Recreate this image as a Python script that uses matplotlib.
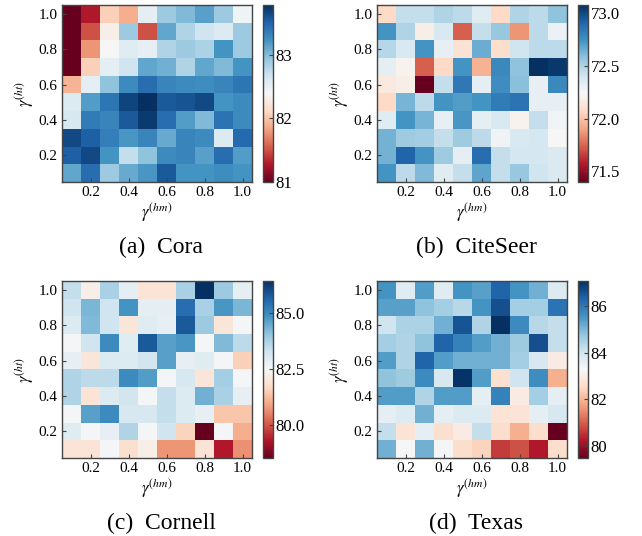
import numpy as np
import matplotlib
matplotlib.use("Agg")
import matplotlib.pyplot as plt

# Шрифты: Times-подобный serif + stix для формул
plt.rcParams['font.family'] = 'serif'
plt.rcParams['font.serif'] = ['Liberation Serif', 'DejaVu Serif']
plt.rcParams['mathtext.fontset'] = 'stix'

# =====================================
# Данные (строки сверху вниз: gamma_ht = 1.0 ... 0.1, столбцы gamma_hm = 0.1 ... 1.0)
# =====================================
cora = [
    [81.00, 81.28, 82.06, 81.89, 82.53, 82.89, 83.00, 83.14, 82.89, 82.45],
    [81.00, 81.50, 82.31, 82.89, 81.50, 83.11, 82.81, 82.67, 82.58, 82.89],
    [81.00, 81.78, 82.39, 82.56, 82.50, 82.81, 82.89, 82.83, 83.22, 82.89],
    [81.00, 82.06, 82.53, 82.67, 83.11, 83.06, 82.81, 83.11, 83.00, 83.22],
    [81.92, 82.53, 82.95, 83.28, 83.45, 83.31, 83.28, 83.25, 83.31, 83.39],
    [82.58, 83.17, 83.39, 83.67, 83.78, 83.56, 83.59, 83.64, 83.22, 83.28],
    [82.61, 83.36, 83.31, 83.56, 83.72, 83.45, 83.17, 83.00, 83.42, 83.28],
    [83.64, 83.53, 83.34, 83.20, 83.31, 83.09, 83.31, 83.28, 82.58, 83.47],
    [83.53, 83.64, 83.22, 82.72, 82.95, 83.28, 83.31, 83.14, 83.45, 83.17],
    [83.11, 83.45, 82.89, 83.09, 83.20, 83.56, 83.22, 83.22, 83.25, 83.22],
]

citeseer = [
    [72.07, 72.44, 72.44, 72.49, 72.46, 72.34, 72.07, 72.49, 72.46, 72.58],
    [72.74, 72.49, 72.19, 72.37, 71.74, 72.44, 72.56, 71.87, 72.46, 72.29],
    [72.48, 72.37, 72.74, 72.31, 72.12, 72.66, 72.09, 72.41, 72.46, 72.46],
    [72.32, 72.21, 71.74, 72.07, 72.74, 71.95, 72.78, 72.58, 73.08, 73.05],
    [72.16, 72.19, 71.40, 72.44, 72.84, 72.32, 72.76, 72.59, 72.31, 72.78],
    [72.07, 72.63, 72.46, 72.74, 72.71, 72.74, 72.83, 72.86, 72.31, 72.31],
    [72.34, 72.74, 72.63, 72.31, 72.73, 72.32, 72.37, 72.21, 72.44, 72.26],
    [72.64, 72.54, 72.53, 72.44, 72.54, 72.46, 72.27, 72.37, 72.39, 72.24],
    [72.64, 72.91, 72.74, 72.54, 72.32, 72.88, 72.44, 72.39, 72.39, 72.36],
    [72.74, 72.46, 72.61, 72.34, 72.44, 72.68, 72.44, 72.56, 72.41, 72.36],
]

cornell = [
    [83.43, 82.24, 83.75, 82.87, 81.92, 81.92, 83.75, 86.45, 83.91, 82.87],
    [83.27, 84.30, 83.27, 84.86, 82.87, 82.87, 85.50, 83.75, 84.78, 84.30],
    [83.03, 84.22, 83.27, 82.00, 82.95, 82.79, 85.81, 83.91, 82.00, 82.55],
    [82.55, 83.27, 85.02, 82.95, 85.81, 84.62, 84.78, 82.55, 84.22, 83.51],
    [82.79, 82.00, 83.03, 83.03, 83.19, 84.62, 82.79, 82.95, 82.55, 81.52],
    [83.67, 83.51, 83.51, 85.02, 84.70, 82.55, 83.11, 82.00, 83.83, 82.55],
    [83.67, 81.92, 83.03, 83.19, 82.55, 83.43, 83.03, 84.38, 83.75, 82.79],
    [82.55, 84.62, 85.02, 83.11, 83.11, 83.43, 83.03, 82.79, 81.36, 81.36],
    [82.95, 82.55, 82.79, 83.67, 82.55, 83.27, 81.60, 78.50, 82.55, 81.04],
    [81.92, 81.92, 82.55, 81.84, 82.24, 80.73, 80.73, 81.92, 79.30, 80.65],
]

texas = [
    [85.54, 83.73, 85.39, 83.73, 85.54, 85.31, 86.30, 85.54, 85.09, 83.80],
    [85.31, 85.31, 84.79, 84.56, 84.33, 85.54, 86.60, 84.56, 84.56, 86.07],
    [84.03, 84.48, 84.48, 85.09, 86.52, 84.41, 87.05, 85.69, 84.33, 84.18],
    [84.56, 84.41, 84.79, 86.30, 85.84, 85.39, 85.09, 84.63, 86.60, 84.18],
    [85.39, 84.41, 86.30, 85.39, 85.09, 85.09, 85.09, 84.56, 83.88, 82.97],
    [84.79, 84.63, 85.69, 83.88, 86.97, 85.39, 82.67, 84.03, 85.62, 81.92],
    [85.39, 85.39, 84.41, 85.39, 85.39, 83.65, 85.84, 82.97, 84.56, 83.65],
    [83.65, 83.80, 85.09, 83.65, 83.80, 83.80, 82.75, 82.75, 83.65, 83.88],
    [84.18, 82.75, 83.65, 82.67, 82.97, 84.18, 82.60, 81.92, 82.60, 79.50],
    [85.09, 83.28, 85.09, 83.35, 82.60, 82.44, 80.63, 80.86, 80.26, 82.60],
]

titles = ['(a)  Cora', '(b)  CiteSeer', '(c)  Cornell', '(d)  Texas']
cbar_ticks = [[81, 82, 83], [71.5, 72.0, 72.5, 73.0], [80.0, 82.5, 85.0], [80, 82, 84, 86]]
cbar_fmt = ['%d', '%.1f', '%.1f', '%d']
axis_ticks = [0.2, 0.4, 0.6, 0.8, 1.0]

# =====================================
# Фигура и расположение панелей (в долях фигуры)
# =====================================
W, H = 642, 536
fig = plt.figure(figsize=(W / 100, H / 100), dpi=100)

# левый край heatmap, верх heatmap (в пикселях)
panels = [(62, 5), (377, 5), (62, 281), (377, 281)]
hm_w, hm_h = 190, 177
cb_gap, cb_w = 11, 10
frame_col = '#444444'

for data, title, ticks, fmt, (px, py) in zip([cora, citeseer, cornell, texas],
                                              titles, cbar_ticks, cbar_fmt, panels):
    ax = fig.add_axes([px / W, 1 - (py + hm_h) / H, hm_w / W, hm_h / H])
    cax = fig.add_axes([(px + hm_w + cb_gap) / W, 1 - (py + hm_h) / H, cb_w / W, hm_h / H])

    im = ax.imshow(np.array(data), cmap='RdBu', origin='upper', aspect='auto',
                   extent=[0.05, 1.05, 0.05, 1.05], interpolation='nearest')

    ax.set_xticks(axis_ticks)
    ax.set_yticks(axis_ticks)
    ax.set_xticklabels(['%.1f' % t for t in axis_ticks])
    ax.set_yticklabels(['%.1f' % t for t in axis_ticks])
    ax.tick_params(direction='in', length=3, width=0.8, color=frame_col,
                   labelsize=11, pad=3)
    ax.set_xlabel(r'$\gamma^{(hm)}$', fontsize=12, labelpad=1)
    ax.set_ylabel(r'$\gamma^{(ht)}$', fontsize=12, labelpad=2)
    for s in ax.spines.values():
        s.set_color(frame_col)
        s.set_linewidth(1.0)

    cb = fig.colorbar(im, cax=cax, ticks=ticks, format=fmt)
    cb.ax.tick_params(direction='in', length=3, width=0.8, color=frame_col,
                      labelsize=12, pad=2)
    cb.outline.set_edgecolor(frame_col)
    cb.outline.set_linewidth(1.0)

    # подпись панели
    fig.text((px + hm_w / 2 + 4) / W, 1 - (py + 242) / H, title,
             ha='center', va='center', fontsize=17)

fig.savefig('out.png', dpi=100)
